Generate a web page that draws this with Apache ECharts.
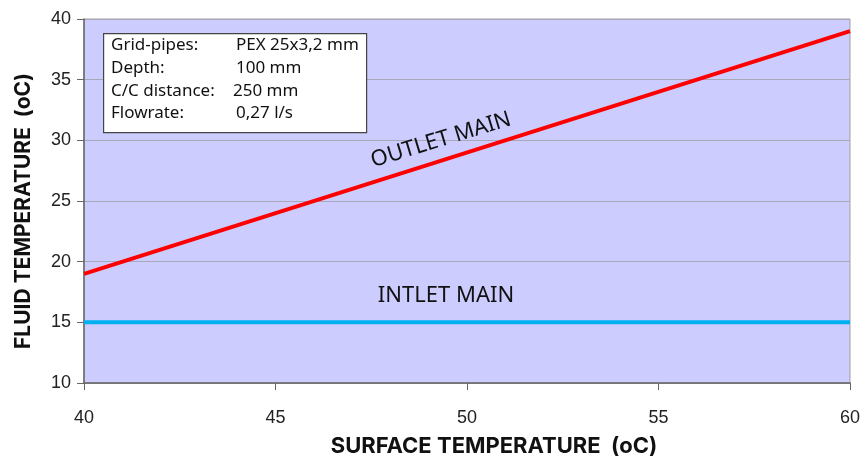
<!DOCTYPE html>
<html>
<head>
<meta charset="utf-8">
<script src="https://cdn.jsdelivr.net/npm/echarts@6/dist/echarts.min.js"></script>
<style>
  html, body { margin: 0; padding: 0; background: #fff; }
  #main { width: 865px; height: 462px; }
</style>
</head>
<body>
<div id="main"></div>
<script>
// surface temperature (x) and fluid temperatures (y)
const surfaceTemp = [40, 60];
const outletMain = [19, 39];
const intletMain = [15, 15];
const infoLabels = ['Grid-pipes:', 'Depth:', 'C/C distance:', 'Flowrate:'];
const infoValues = ['PEX 25x3,2 mm', '100 mm', '250 mm', '0,27 l/s'];

const chart = echarts.init(document.getElementById('main'));
const font = '"Liberation Sans", Arial, sans-serif';
const boxFont = '17px "Noto Sans", sans-serif';

// info box
const infoBox = [{
  type: 'rect',
  left: 103, top: 33,
  shape: { width: 263, height: 99 },
  style: { fill: '#fff', stroke: '#444', lineWidth: 1.2 },
  z: 10
}];
infoLabels.forEach((t, i) => {
  infoBox.push({
    type: 'text', left: 111, top: 37 + i * 22.7, z: 11,
    style: { text: t, font: boxFont, fill: '#111' }
  });
  infoBox.push({
    type: 'text', left: i === 2 ? 233 : 236, top: 37 + i * 22.7, z: 11,
    style: { text: infoValues[i], font: boxFont, fill: '#111' }
  });
});

const option = {
  animation: false,
  grid: {
    left: 84, right: 15, top: 19, bottom: 79,
    show: true, backgroundColor: '#ccccff', borderColor: '#a0a0a0', borderWidth: 1
  },
  xAxis: {
    type: 'value', min: 40, max: 60, interval: 5,
    name: 'SURFACE TEMPERATURE  (oC)', nameLocation: 'middle', nameGap: 52,
    nameTextStyle: { fontFamily: 'Inter, ' + font, fontWeight: 'bold', fontSize: 22, color: '#111', padding: [0, 0, 0, 54] },
    axisLine: { lineStyle: { color: '#666', width: 1.5 } },
    axisTick: { show: true, length: 7, lineStyle: { color: '#666' } },
    axisLabel: { margin: 26, fontFamily: font, fontSize: 18, color: '#222' },
    splitLine: { show: false }
  },
  yAxis: {
    type: 'value', min: 10, max: 40, interval: 5,
    name: 'FLUID TEMPERATURE  (oC)', nameLocation: 'middle', nameGap: 50,
    nameTextStyle: { fontFamily: 'Inter, ' + font, fontWeight: 'bold', fontSize: 21, color: '#111', padding: [0, 20, 0, 0] },
    axisLine: { show: true, lineStyle: { color: '#666', width: 1.5 } },
    axisTick: { show: true, length: 7, inside: false, lineStyle: { color: '#666', width: 1 } },
    axisLabel: { margin: 13, fontFamily: font, fontSize: 18, color: '#222' },
    splitLine: { show: true, lineStyle: { color: '#a8a8b8', width: 1 } }
  },
  series: [
    {
      name: 'OUTLET MAIN', type: 'line', symbol: 'none',
      data: surfaceTemp.map((x, i) => [x, outletMain[i]]),
      lineStyle: { color: '#ff0000', width: 4 }
    },
    {
      name: 'INTLET MAIN', type: 'line', symbol: 'none',
      data: surfaceTemp.map((x, i) => [x, intletMain[i]]),
      lineStyle: { color: '#00b0f0', width: 4 }
    }
  ],
  graphic: infoBox.concat([
    {
      type: 'text', x: 441, y: 140, rotation: 17 * Math.PI / 180, z: 11,
      style: { text: 'OUTLET MAIN', font: '22px "Noto Sans", sans-serif', fill: '#111', align: 'center', verticalAlign: 'middle' }
    },
    {
      type: 'text', x: 446, y: 296, z: 11,
      style: { text: 'INTLET MAIN', font: '22px "Noto Sans", sans-serif', fill: '#111', align: 'center', verticalAlign: 'middle' }
    }
  ])
};
chart.setOption(option);
</script>
</body>
</html>
